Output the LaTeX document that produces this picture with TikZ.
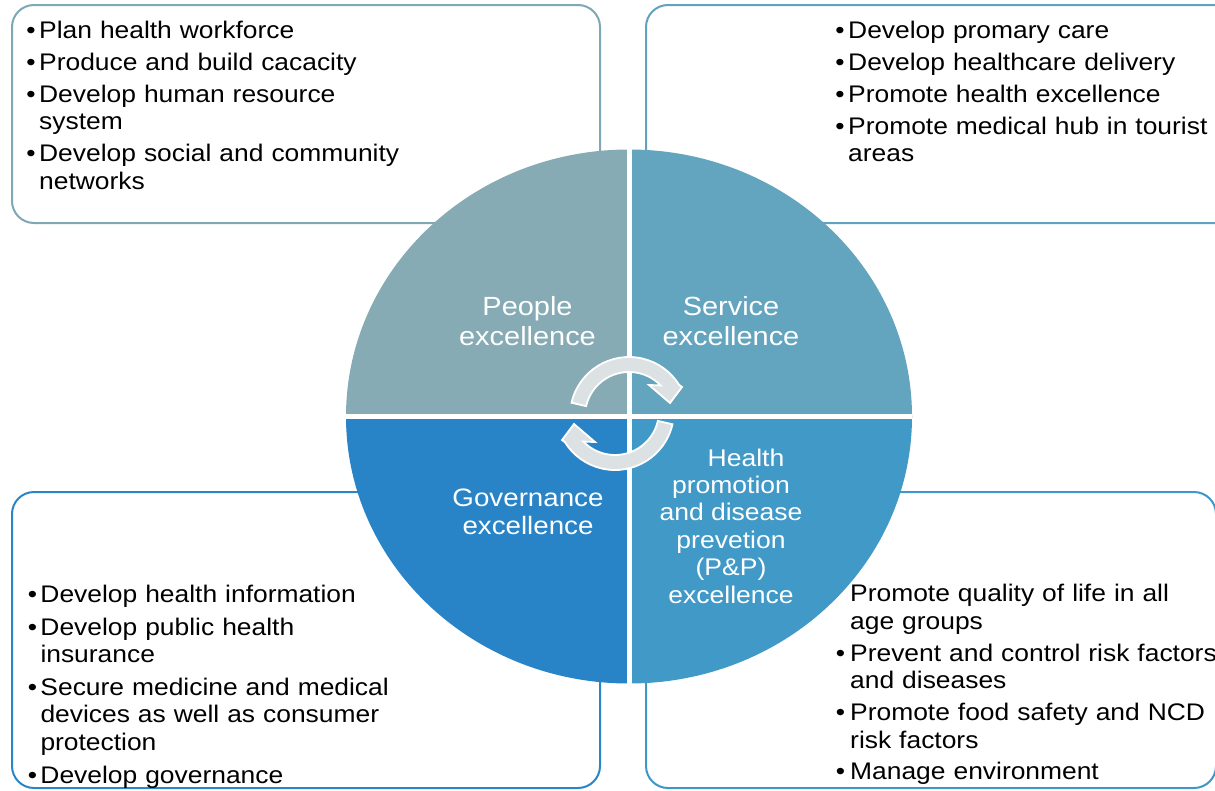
\documentclass[tikz,border=0pt]{standalone}
\usepackage{fontspec}
\setmainfont{Liberation Sans}[FakeStretch=1.1]

\definecolor{peopleC}{HTML}{86ABB5}
\definecolor{serviceC}{HTML}{63A4BF}
\definecolor{govC}{HTML}{2884C6}
\definecolor{ppC}{HTML}{4199C8}
\definecolor{peopleLine}{HTML}{7FA8B4}
\definecolor{serviceLine}{HTML}{62A2BE}
\definecolor{govLine}{HTML}{2A86C7}
\definecolor{ppLine}{HTML}{3E97C8}
\definecolor{cycleC}{HTML}{DCE2E4}

% hanging bullets in front of a list item
\newcommand\bul{\leavevmode\llap{\textbullet\hspace{3.5pt}}}
\newcommand\bulwide{\leavevmode\llap{\textbullet\hspace{5pt}}}

% one curved cycle arrow, drawn round the current origin
\newcommand\cyclearrow{%
  (167:59pt) arc[start angle=167, end angle=32, radius=59pt]
  -- (53pt,29pt) -- (41pt,13pt) -- (20pt,31pt)
  -- (44:44pt) arc[start angle=44, end angle=167, radius=44pt] -- cycle}

\begin{document}
\begin{tikzpicture}[x=1pt,y=-1pt,
  panel/.style={line width=2pt, rounded corners=22pt, fill=white},
  items/.style={anchor=base west, inner sep=0pt, text width=560pt, align=left,
    font=\fontsize{24}{27.5}\selectfont},
  quad/.style={text=white, align=center, inner sep=0pt, anchor=base},
  cyc/.style={fill=cycleC, draw=white, line width=1.8pt, line join=miter}]
\path[use as bounding box] (0,0) rectangle (1215,790);
\clip (0,0) rectangle (1215,790);
\fill[white] (0,0) rectangle (1215,790);

% corner panels
\draw[panel, draw=peopleLine]  (12,5)   rectangle (600,223);
\draw[panel, draw=serviceLine] (646,5)  rectangle (1240,223);
\draw[panel, draw=govLine]     (12,492) rectangle (600,788);
\draw[panel, draw=ppLine]      (646,492) rectangle (1216,788);

% panel lists
\node[items] (peopleList) at (39,38.3) {%
  \bul Plan health workforce\\[4.5pt]
  \bul Produce and build cacacity\\[4.5pt]
  \bul Develop human resource\\system\\[4.5pt]
  \bul Develop social and community\\networks};

\node[items] (serviceList) at (848,38.3) {%
  \bul Develop promary care\\[4.5pt]
  \bul Develop healthcare delivery\\[4.5pt]
  \bul Promote health excellence\\[4.5pt]
  \bul Promote medical hub in tourist\\areas};

\node[items, font=\fontsize{24}{27.3}\selectfont] (govList) at (40.3,602.7) {%
  \bul Develop health information\\[5.5pt]
  \bul Develop public health\\insurance\\[5.5pt]
  \bul Secure medicine and medical\\devices as well as consumer\\protection\\[5.5pt]
  \bul Develop governance};

\node[items, font=\fontsize{24}{27.7}\selectfont] (ppList) at (850,601.7) {%
  Promote quality of life in all\\age groups\\[4pt]
  \bulwide Prevent and control risk factors\\and diseases\\[4pt]
  \bulwide Promote food safety and NCD\\risk factors\\[4pt]
  \bulwide Manage environment};

% the four quarters of the disc
\begin{scope}
  \clip (340,140) rectangle (629,416.5);
  \fill[peopleC] (629,416.5) ellipse [x radius=283pt, y radius=267pt];
\end{scope}
\begin{scope}
  \clip (629,140) rectangle (920,416.5);
  \fill[serviceC] (629,416.5) ellipse [x radius=283pt, y radius=267pt];
\end{scope}
\begin{scope}
  \clip (340,416.5) rectangle (629,690);
  \fill[govC] (629,416.5) ellipse [x radius=283pt, y radius=267pt];
\end{scope}
\begin{scope}
  \clip (629,416.5) rectangle (920,690);
  \fill[ppC] (629,416.5) ellipse [x radius=283pt, y radius=267pt];
\end{scope}
\draw[white, line width=5pt] (629,149) -- (629,684);
\draw[white, line width=5pt] (346,416.5) -- (912,416.5);

% quarter titles (anchored at the baseline of their last line)
\node[quad, font=\fontsize{26.3}{30}\selectfont] (people) at (527.5,345) {People\\excellence};
\node[quad, font=\fontsize{26.3}{30}\selectfont] (service) at (731,345) {Service\\excellence};
\node[quad, font=\fontsize{25.2}{27.5}\selectfont] (gov) at (528,534) {Governance\\excellence};
\node[quad, font=\fontsize{24.1}{27.4}\selectfont] (pp) at (731,603)
  {\hspace*{30pt}Health\\promotion\\and disease\\prevetion\\(P\&P)\\excellence};

% cycle arrows in the middle
\begin{scope}[shift={(629,416)}]
  \draw[cyc] \cyclearrow;
\end{scope}
\begin{scope}[shift={(615,411)}, rotate=180]
  \draw[cyc] \cyclearrow;
\end{scope}
\end{tikzpicture}
\end{document}
